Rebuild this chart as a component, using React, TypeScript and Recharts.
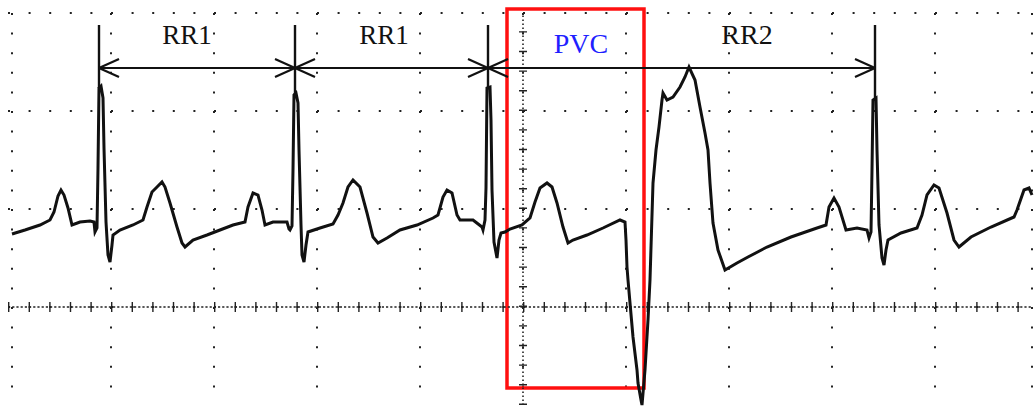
import React from 'react';
import { LineChart, Line, XAxis, YAxis, CartesianGrid, ReferenceLine, ReferenceArea, ReferenceDot } from 'recharts';

// ECG strip: time in samples, amplitude in ADC counts (0 = scope centre line)
const traceTime = [
  0, 13, 28, 38, 42, 46, 49, 52, 56, 60, 68, 78, 82, 83, 85, 86, 87, 89, 91, 92, 94, 96, 98, 100, 101,
  108, 121, 131, 135, 140, 145, 150, 153, 158, 165, 170, 173, 181, 195, 208, 221, 233, 236, 241, 246,
  250, 253, 261, 275, 277, 278, 280, 281, 282, 284, 286, 287, 289, 290, 292, 294, 296,
  308, 321, 326, 331, 336, 341, 348, 355, 361, 366, 375, 388, 405, 421, 426, 431, 435, 440, 445, 448,
  461, 470, 471, 473, 474, 475, 478, 479, 480, 482, 485, 487, 489, 493,
  498, 510, 518, 523, 528, 535, 540, 545, 551, 556, 561, 575, 591, 608, 613,
  614, 615, 616, 618, 621, 625, 626, 629, 630, 633, 636, 638, 641, 644, 647, 650, 651, 655, 661, 668,
  673, 677, 683, 688, 693, 696, 698, 701, 706, 713, 725, 736, 755, 779, 805, 814, 817, 822, 827, 834,
  845, 855, 857, 859, 860, 861, 864, 865, 867, 870, 872, 874, 876,
  889, 905, 910, 915, 922, 927, 935, 942, 947, 959, 979, 1002, 1005, 1012, 1017, 1020,
];
const traceAmp = [
  73, 77, 82, 87, 95, 111, 117, 112, 99, 82, 85, 86, 85, 75, 79, 139, 219, 221, 209, 159, 85, 52, 45, 62, 72,
  77, 82, 87, 100, 115, 120, 125, 120, 104, 80, 64, 60, 67, 72, 77, 82, 85, 100, 114, 112,
  97, 82, 85, 85, 78, 77, 81, 137, 212, 214, 204, 157, 82, 52, 45, 62, 75,
  79, 83, 92, 104, 120, 127, 120, 94, 70, 64, 69, 77, 82, 89, 92, 110, 117, 114, 92, 87,
  87, 80, 77, 87, 119, 219, 220, 187, 117, 65, 49, 67, 74, 75,
  78, 82, 89, 105, 119, 124, 120, 104, 80, 64, 67, 72, 79, 87, 85,
  67, 40, 27, 4, -30, -63, -76, -93, -98, -63, -13, 27, 124, 157, 180, 207, 214, 207, 210, 220,
  230, 240, 227, 200, 174, 157, 124, 84, 57, 37, 44, 50, 60, 70, 79, 82, 100, 109, 100, 77,
  79, 77, 69, 75, 137, 207, 209, 157, 82, 49, 42, 57, 67,
  74, 79, 92, 112, 122, 119, 94, 67, 60, 70, 80, 90, 97, 117, 119, 112,
];

const gridTimes = [0, 99, 202, 305, 408, 511, 614, 717, 820, 923, 1020];
const gridAmps = [-98, 0, 98, 196, 294];
const centreTime = 511;
const centreAmp = 0;

const rPeakTimes = [87, 283, 476, 863];
const rPeakAmps = [219, 212, 220, 207];
const markerTop = 282;

const arrowAmp = 239;
const spanStart = [87, 283, 476];
const spanEnd = [283, 476, 863];

const labelText = ['RR1', 'RR1', 'PVC', 'RR2'];
const labelTime = [175, 372, 569, 735];
const labelAmp = [273, 273, 264, 273];
const labelColor = ['#111111', '#111111', '#1f1fff', '#111111'];
const labelSize = [27, 27, 28, 28];

const pvcBoxTime = [495, 632];
const pvcBoxAmp = [-81, 298];

const data = traceTime.map((t, i) => ({ t, v: traceAmp[i] }));

const HEAD_T = 20;
const HEAD_A = 9;
const ink = '#111111';
const serif = '"Liberation Serif", "Times New Roman", serif';

const App: React.FC = () => {
  const arrows: { x1: number; y1: number; x2: number; y2: number }[] = [];
  spanStart.forEach((s, i) => {
    const e = spanEnd[i];
    arrows.push({ x1: s, y1: arrowAmp, x2: e, y2: arrowAmp });
    arrows.push({ x1: s, y1: arrowAmp, x2: s + HEAD_T, y2: arrowAmp + HEAD_A });
    arrows.push({ x1: s, y1: arrowAmp, x2: s + HEAD_T, y2: arrowAmp - HEAD_A });
    arrows.push({ x1: e, y1: arrowAmp, x2: e - HEAD_T, y2: arrowAmp + HEAD_A });
    arrows.push({ x1: e, y1: arrowAmp, x2: e - HEAD_T, y2: arrowAmp - HEAD_A });
  });

  return (
    <div style={{ position: 'absolute', left: 0, top: 0, width: 1034, height: 407, background: '#fff' }}>
      <LineChart width={1034} height={407} data={data} margin={{ top: 13, right: 2, bottom: 2, left: 8 }}>
        <XAxis type="number" dataKey="t" domain={[-4, 1020]} ticks={gridTimes} hide />
        <YAxis type="number" domain={[-98, 294]} ticks={gridAmps} hide />
        <CartesianGrid vertical={false} horizontalValues={gridAmps} stroke="#222" strokeWidth={2} strokeDasharray="2 18.6" />
        <CartesianGrid horizontal={false} verticalValues={gridTimes} stroke="#222" strokeWidth={2} strokeDasharray="2 17.6" />

        {/* dense centre lines with minor ticks */}
        <ReferenceLine y={centreAmp} stroke="#222" strokeWidth={1.6} strokeDasharray="2.2 2" />
        <ReferenceLine y={centreAmp} stroke="#222" strokeWidth={10} strokeDasharray="1.4 19.2" />
        <ReferenceLine x={centreTime} stroke="#222" strokeWidth={1.6} strokeDasharray="1.6 2.4" />
        <ReferenceLine x={centreTime} stroke="#222" strokeWidth={8} strokeDasharray="1.4 18.2" />

        <Line
          type="linear"
          dataKey="v"
          stroke={ink}
          strokeWidth={3}
          dot={false}
          isAnimationActive={false}
        />

        {rPeakTimes.map((t, i) => (
          <ReferenceLine
            key={'m' + i}
            segment={[{ x: t, y: markerTop }, { x: t, y: rPeakAmps[i] }]}
            stroke={ink}
            strokeWidth={2.4}
          />
        ))}
        {arrows.map((a, i) => (
          <ReferenceLine
            key={'a' + i}
            segment={[{ x: a.x1, y: a.y1 }, { x: a.x2, y: a.y2 }]}
            stroke={ink}
            strokeWidth={2.2}
          />
        ))}

        <ReferenceArea
          x1={pvcBoxTime[0]}
          x2={pvcBoxTime[1]}
          y1={pvcBoxAmp[0]}
          y2={pvcBoxAmp[1]}
          fill="none"
          stroke="#ff1010"
          strokeWidth={3.5}
          ifOverflow="visible"
        />

        {labelText.map((txt, i) => (
          <ReferenceDot
            key={'l' + i}
            x={labelTime[i]}
            y={labelAmp[i]}
            r={1}
            fill="none"
            stroke="none"
            label={{ value: txt, position: 'center', fill: labelColor[i], fontSize: labelSize[i], fontFamily: serif }}
          />
        ))}
      </LineChart>
    </div>
  );
};

export default App;
